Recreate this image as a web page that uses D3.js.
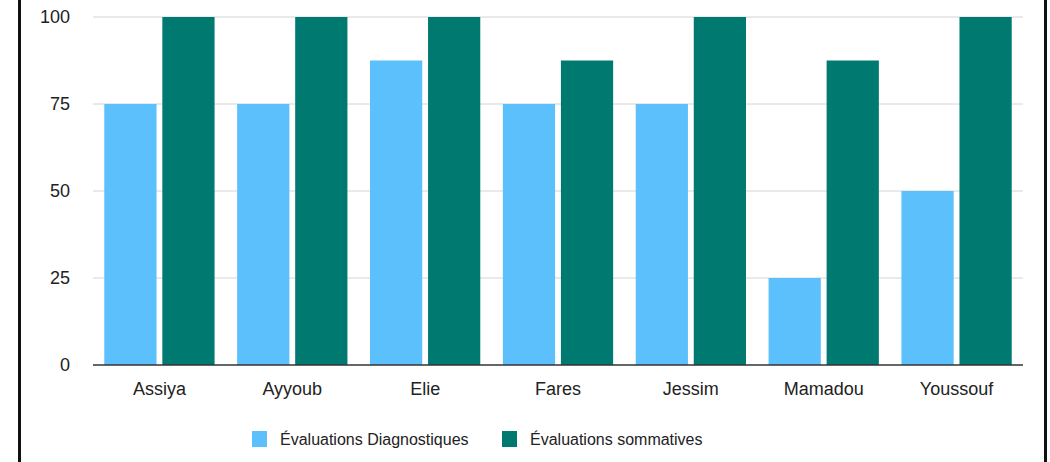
<!DOCTYPE html>
<html>
<head>
<meta charset="utf-8">
<script src="https://cdn.jsdelivr.net/npm/d3@7"></script>
<style>
  body { margin: 0; background: #fff; }
  svg { display: block; font-family: "Liberation Sans", Arial, sans-serif; }
</style>
</head>
<body>
<svg id="chart" width="1050" height="462"></svg>
<script>
const students = ['Assiya', 'Ayyoub', 'Elie', 'Fares', 'Jessim', 'Mamadou', 'Youssouf'];
const diagnostiques = [75, 75, 87.5, 75, 75, 25, 50];
const sommatives = [100, 100, 100, 87.5, 100, 87.5, 100];
const seriesNames = ['Évaluations Diagnostiques', 'Évaluations sommatives'];
const yTicks = [0, 25, 50, 75, 100];

const colors = ['#5BC0FC', '#007A70'];
const margin = { top: 17, right: 27, bottom: 97, left: 93 };
const svg = d3.select('#chart');
const width = 1050 - margin.left - margin.right;
const height = 462 - margin.top - margin.bottom;
const fontSize = 18;

// frame lines on left and right
svg.append('rect').attr('x', 18).attr('y', 0).attr('width', 3).attr('height', 462).attr('fill', '#111');
svg.append('rect').attr('x', 1044).attr('y', 0).attr('width', 3).attr('height', 462).attr('fill', '#111');

const g = svg.append('g').attr('transform', `translate(${margin.left},${margin.top})`);

const x0 = d3.scaleBand().domain(students).range([0, width]).paddingInner(0.17).paddingOuter(0.085);
const x1 = d3.scaleBand().domain([0, 1]).range([0, x0.bandwidth()]).paddingInner(0.1);
const y = d3.scaleLinear().domain([0, 100]).range([height, 0]);

// grid
g.selectAll('.grid')
  .data(yTicks.filter(t => t > 0))
  .enter().append('line')
  .attr('x1', 0).attr('x2', width)
  .attr('y1', d => y(d)).attr('y2', d => y(d))
  .attr('stroke', '#d4d4d4').attr('stroke-width', 1);

const rows = students.map((s, i) => ({ name: s, values: [diagnostiques[i], sommatives[i]] }));

const groups = g.selectAll('.group')
  .data(rows)
  .enter().append('g')
  .attr('transform', d => `translate(${x0(d.name)},0)`);

groups.selectAll('rect')
  .data(d => d.values.map((v, k) => ({ k, v })))
  .enter().append('rect')
  .attr('x', d => x1(d.k))
  .attr('width', x1.bandwidth())
  .attr('y', d => y(d.v))
  .attr('height', d => height - y(d.v))
  .attr('fill', d => colors[d.k]);

// baseline
g.append('line')
  .attr('x1', 0).attr('x2', width)
  .attr('y1', height).attr('y2', height)
  .attr('stroke', '#333').attr('stroke-width', 1.5);

// y labels
g.selectAll('.ylab')
  .data(yTicks)
  .enter().append('text')
  .attr('x', -23)
  .attr('y', d => y(d))
  .attr('dy', '0.35em')
  .attr('text-anchor', 'end')
  .attr('font-size', fontSize)
  .attr('fill', '#222')
  .text(d => d);

// x labels
g.selectAll('.xlab')
  .data(students)
  .enter().append('text')
  .attr('x', d => x0(d) + x0.bandwidth() / 2)
  .attr('y', height + 30)
  .attr('text-anchor', 'middle')
  .attr('font-size', fontSize)
  .attr('fill', '#222')
  .text(d => d);

// legend
const legend = svg.append('g').attr('transform', 'translate(252,431)');
const legendX = [0, 250];
seriesNames.forEach((name, i) => {
  legend.append('rect')
    .attr('x', legendX[i]).attr('y', 0)
    .attr('width', 15).attr('height', 16)
    .attr('fill', colors[i]);
  legend.append('text')
    .attr('x', legendX[i] + 28).attr('y', 14)
    .attr('font-size', 16)
    .attr('fill', '#222')
    .text(name);
});
</script>
</body>
</html>
